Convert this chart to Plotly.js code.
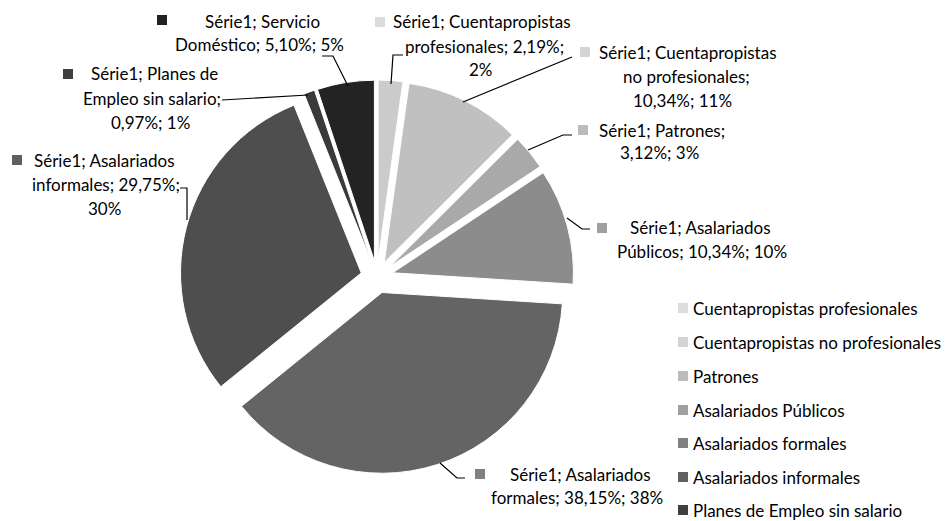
<!DOCTYPE html>
<html>
<head>
<meta charset="utf-8">
<script src="https://cdn.plot.ly/plotly-3.0.1.min.js"></script>
<style>html,body{margin:0;padding:0;background:#fff;}#chart{width:947px;height:521px;}</style>
</head>
<body>
<div id="chart"></div>
<script>
// ---- data ----
const seriesName = "Série1";
const categories = [
  "Cuentapropistas profesionales",
  "Cuentapropistas no profesionales",
  "Patrones",
  "Asalariados Públicos",
  "Asalariados formales",
  "Asalariados informales",
  "Planes de Empleo sin salario",
  "Servicio Doméstico"
];
const values = [2.19, 10.34, 3.12, 10.34, 38.15, 29.75, 0.97, 5.10];
const pctLabels = ["2%", "11%", "3%", "10%", "38%", "30%", "1%", "5%"];

// ---- styles ----
const sliceColors = ["#cbcbcb", "#c0c0c0", "#a9a9a9", "#8c8c8c", "#646464", "#4e4e4e", "#3a3a3a", "#232323"];
const keyColors   = ["#dcdcdc", "#d4d4d4", "#bcbcbc", "#a0a0a0", "#808080", "#606060", "#404040", "#222222"];
const W = 947, H = 521;
const px = x => x / W, py = y => 1 - y / H;
const fmt = v => v.toFixed(2).replace(".", ",") + "%";
const FONT = {family: "Lato, 'Open Sans', sans-serif", size: 17, color: "#000"};

// label text lines, built from data
const v = i => fmt(values[i]);
const labelLines = [
  [`${seriesName}; Cuentapropistas`, `profesionales; ${v(0)};`, pctLabels[0]],
  [`${seriesName}; Cuentapropistas`, `no profesionales;`, `${v(1)}; ${pctLabels[1]}`],
  [`${seriesName}; Patrones;`, `${v(2)}; ${pctLabels[2]}`],
  [`${seriesName}; Asalariados`, `Públicos; ${v(3)}; ${pctLabels[3]}`],
  [`${seriesName}; Asalariados`, `formales; ${v(4)}; ${pctLabels[4]}`],
  [`${seriesName}; Asalariados`, `informales; ${v(5)};`, pctLabels[5]],
  [`${seriesName}; Planes de`, `Empleo sin salario;`, `${v(6)}; ${pctLabels[6]}`],
  [`${seriesName}; Servicio`, `Doméstico; ${v(7)}; ${pctLabels[7]}`]
];
// layout: per label, line centers [x,y] in px, key square x, leader path
const labelPos = [
  {lines: [[482,22],[484,46],[481,69]], key: [375,22], path: [[403,55],[393,55],[391,84]]},
  {lines: [[688,52],[686,76],[682,100]], key: [580,52], path: [[572,57],[463,102]]},
  {lines: [[662,130],[659,153]], key: [578,130], path: [[572,135],[563,135],[528,150]]},
  {lines: [[700,228],[702,251]], key: [597,228], path: [[590,229],[582,229],[567,218]]},
  {lines: [[580,474],[577,497]], key: [475,474], path: [[465,478],[457,478],[440,463]]},
  {lines: [[104,160],[106,184],[104,208]], key: [12,160], path: [[180,188],[187,188],[187,220]]},
  {lines: [[154,74],[152,99],[150,122]], key: [63,74], path: [[222,100],[308,95]]},
  {lines: [[262,21],[259,45]], key: [157,20], path: [[322,56],[333,56],[348,86]]}
];

const annotations = [];
const shapes = [];
labelLines.forEach((lines, i) => {
  const p = labelPos[i];
  lines.forEach((t, j) => {
    annotations.push({
      xref: "paper", yref: "paper", x: px(p.lines[j][0]), y: py(p.lines[j][1]),
      xanchor: "center", yanchor: "middle", text: t, showarrow: false, font: FONT
    });
  });
  shapes.push({
    type: "rect", xref: "paper", yref: "paper",
    x0: px(p.key[0]), x1: px(p.key[0] + 10), y0: py(p.key[1] - 5), y1: py(p.key[1] + 5),
    fillcolor: keyColors[i], line: {width: 0}
  });
  const d = p.path.map((q, k) => (k ? "L" : "M") + px(q[0]) + "," + py(q[1])).join(" ");
  shapes.push({type: "path", xref: "paper", yref: "paper", path: d, line: {color: "#000", width: 1.2}});
});

// custom legend (first seven categories visible, as in the reference)
const legendY = [308, 342, 376, 410, 443, 477, 510];
legendY.forEach((y, i) => {
  shapes.push({
    type: "rect", xref: "paper", yref: "paper",
    x0: px(678), x1: px(688), y0: py(y - 5), y1: py(y + 5),
    fillcolor: keyColors[i], line: {width: 0}
  });
  annotations.push({
    xref: "paper", yref: "paper", x: px(691), y: py(y),
    xanchor: "left", yanchor: "middle", text: categories[i], showarrow: false, font: FONT
  });
});

const trace = {
  type: "pie",
  labels: categories,
  values: values,
  sort: false,
  direction: "clockwise",
  rotation: 0,
  pull: [0.09, 0.09, 0.09, 0.09, 0.09, 0.09, 0.09, 0.09],
  textinfo: "none",
  hoverinfo: "label+value+percent",
  marker: {colors: sliceColors, line: {color: "#ffffff", width: 1}},
  domain: {x: [px(180), px(574)], y: [py(474), py(80)]},
  showlegend: false
};

const layout = {
  width: W, height: H,
  margin: {l: 0, r: 0, t: 0, b: 0},
  paper_bgcolor: "#ffffff",
  showlegend: false,
  annotations: annotations,
  shapes: shapes,
  font: FONT
};

Plotly.newPlot("chart", [trace], layout, {displayModeBar: false, staticPlot: true});
</script>
</body>
</html>
